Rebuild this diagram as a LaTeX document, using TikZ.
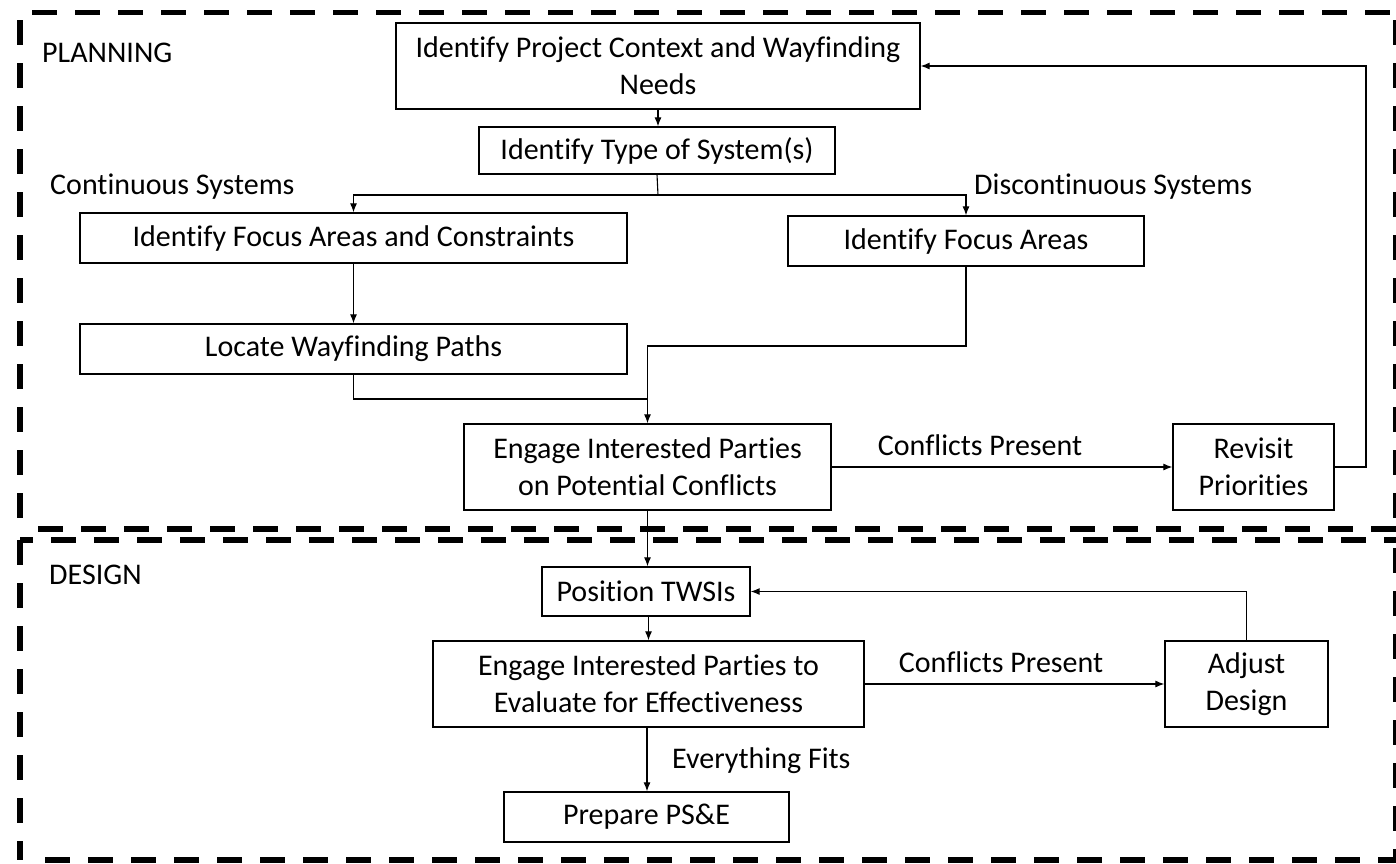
\documentclass[tikz,border=0pt]{standalone}
\usepackage{fontspec}
\setmainfont{Carlito}[Ligatures={NoCommon,NoContextual}]
\usetikzlibrary{arrows.meta}
\begin{document}
\begin{tikzpicture}[x=1pt,y=-1pt,
  box/.style={draw, line width=1.3pt, inner sep=0pt, align=center, font=\fontsize{30}{37}\selectfont},
  lbl/.style={inner sep=0pt, font=\fontsize{30}{37}\selectfont},
  conn/.style={line width=1.1pt, -{Latex[length=9pt,width=7pt]}},
  plain/.style={line width=1.1pt},
  region/.style={line width=5.5pt, line cap=butt, dash pattern=on 25pt off 18pt}]
\useasboundingbox (0,0) rectangle (1396,863);
% regions
\draw[region] (32,12.7) -- (1396,12.7);
\draw[region] (20,20) -- (20,529);
\draw[region] (38,529) -- (1396,529);
\draw[region] (1396,20) -- (1396,529);
\draw[region, dash phase=12pt] (20,540) -- (1396,540);
\draw[region] (20,540) -- (20,860);
\draw[region] (45,860) -- (1396,860);
\draw[region] (1396,548) -- (1396,860);
\node[lbl, anchor=west] (planning) at (42,53) {PLANNING};
\node[lbl, anchor=west] (design) at (49,575) {DESIGN};
% nodes
\node[box, minimum width=524pt, minimum height=86pt] (ctx) at (658,66) {Identify Project Context and Wayfinding\\Needs};
\node[box, minimum width=356pt, minimum height=47pt] (type) at (657,150.5) {Identify Type of System(s)};
\node[box, minimum width=547pt, minimum height=50pt] (focusC) at (353.5,238) {Identify Focus Areas and Constraints};
\node[box, minimum width=356pt, minimum height=50pt] (focusD) at (966,241) {Identify Focus Areas};
\node[box, minimum width=547pt, minimum height=50pt] (locate) at (353.5,349) {Locate Wayfinding Paths};
\node[box, minimum width=367pt, minimum height=86pt] (engage1) at (647.5,467) {Engage Interested Parties\\on Potential Conflicts};
\node[box, minimum width=161pt, minimum height=86pt] (revisit) at (1253.5,467) {Revisit\\Priorities};
\node[box, minimum width=208pt, minimum height=49pt] (pos) at (646,591.5) {Position TWSIs};
\node[box, minimum width=431pt, minimum height=86pt] (engage2) at (648.5,684) {Engage Interested Parties to\\Evaluate for Effectiveness};
\node[box, minimum width=163pt, minimum height=86pt] (adjust) at (1246.5,684) {Adjust\\Design};
\node[box, minimum width=285pt, minimum height=50pt] (prep) at (646.5,817) {Prepare PS\&E};
% labels
\node[lbl, anchor=west] (lcont) at (50,187) {Continuous Systems};
\node[lbl, anchor=west] (ldisc) at (974,187) {Discontinuous Systems};
\node[lbl] (lconf1) at (980,445) {Conflicts Present};
\node[lbl] (lconf2) at (1001,662) {Conflicts Present};
\node[lbl, anchor=west] (lfits) at (672,761) {Everything Fits};
% connectors
\draw[conn] (ctx.south) -- (ctx.south |- type.north);
\coordinate (split) at (658,195);
\draw[plain] (type.south) -- (split);
\draw[conn] (split) -| (focusC.north);
\draw[conn] (split) -| (focusD.north);
\draw[conn] (focusC.south) -- (locate.north);
\coordinate (j1) at (647.5,346);
\coordinate (j2) at (647.5,399);
\draw[conn] (focusD.south) |- (j1) -- (engage1.north);
\draw[plain] (locate.south) |- (j2);
\draw[conn] (engage1.east) -- (revisit.west);
\coordinate (r1) at (1366,467);
\draw[conn] (revisit.east) -- (r1) |- (ctx.east);
\draw[conn] (engage1.south) -- (engage1.south |- pos.north);
\draw[conn] (pos.south -| engage2.north) -- (engage2.north);
\draw[conn] (engage2.east) -- (adjust.west);
\draw[conn] (adjust.north) |- (pos.east);
\draw[conn] (engage2.south -| 647,0) -- (prep.north -| 647,0);
\end{tikzpicture}
\end{document}
